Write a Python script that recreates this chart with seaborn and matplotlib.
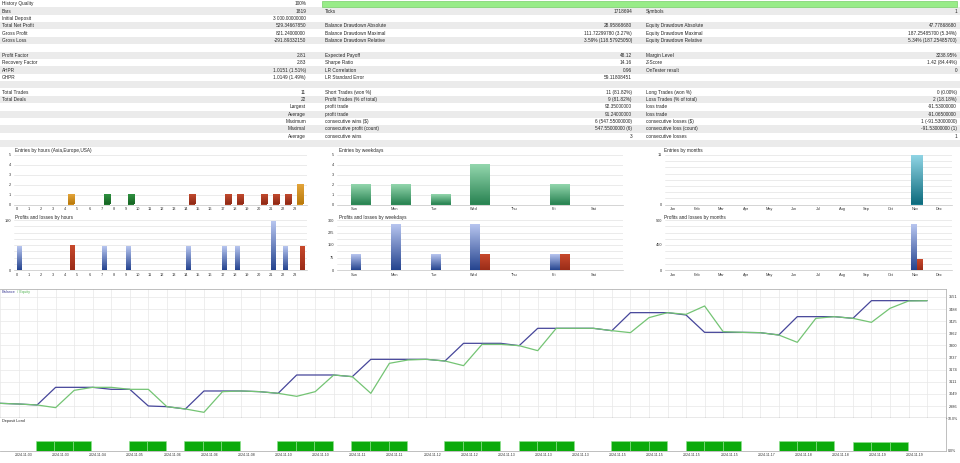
import numpy as np
import pandas as pd
import matplotlib
matplotlib.use("Agg")
import matplotlib.pyplot as plt
import seaborn as sns
from matplotlib.colors import LinearSegmentedColormap, to_hex

# --- report table -------------------------------------------------------
left_labels = ["History Quality", "Bars", "Initial Deposit", "Total Net Profit", "Gross Profit",
               "Gross Loss", "", "Profit Factor", "Recovery Factor", "AHPR", "GHPR", "",
               "Total Trades", "Total Deals", "", "", "", "", "", ""]
left_values = ["100%", "1819", "3 000.00000000", "529.34667850", "821.24000000", "-291.89332150", "",
               "2.81", "2.83", "1.0151 (1.51%)", "1.0149 (1.49%)", "", "11", "22",
               "Largest", "Average", "Maximum", "Maximal", "Average", ""]
mid_labels = ["", "Ticks", "", "Balance Drawdown Absolute", "Balance Drawdown Maximal",
              "Balance Drawdown Relative", "", "Expected Payoff", "Sharpe Ratio", "LR Correlation",
              "LR Standard Error", "", "Short Trades (won %)", "Profit Trades (% of total)",
              "profit trade", "profit trade", "consecutive wins ($)", "consecutive profit (count)",
              "consecutive wins", ""]
mid_values = ["", "1718694", "", "28.95868680", "111.72299780 (3.27%)", "3.59% (118.57925050)", "",
              "48.12", "14.16", "0.96", "59.11808451", "", "11 (81.82%)", "9 (81.82%)",
              "92.35000000", "91.24000000", "6 (547.55000000)", "547.55000000 (6)", "3", ""]
right_labels = ["", "Symbols", "", "Equity Drawdown Absolute", "Equity Drawdown Maximal",
                "Equity Drawdown Relative", "", "Margin Level", "Z-Score", "OnTester result", "", "",
                "Long Trades (won %)", "Loss Trades (% of total)", "loss trade", "loss trade",
                "consecutive losses ($)", "consecutive loss (count)", "consecutive losses", ""]
right_values = ["", "1", "", "47.77868680", "187.25485700 (5.34%)", "5.34% (187.25485700)", "",
                "3238.95%", "1.42 (84.44%)", "0", "", "", "0 (0.00%)", "2 (18.18%)",
                "-91.53000000", "-91.06500000", "1 (-91.53000000)", "-91.53000000 (1)", "1", ""]

# --- small distribution charts -------------------------------------------
hours = list(range(24))
hour_entries = [0, 0, 0, 0, 1, 0, 0, 1, 0, 1, 0, 0, 0, 0, 1, 0, 0, 1, 1, 0, 1, 1, 1, 2]
hour_session = ["Asia"] * 7 + ["Europe"] * 7 + ["USA"] * 9 + ["Asia"]
hour_profit = [91.2, 0, 0, 0, 0, 0, 0, 91.2, 0, 91.2, 0, 0, 0, 0, 91.2, 0, 0, 91.2, 87.5, 0, 0, 182.6, 91.2, 0]
hour_loss = [0, 0, 0, 0, 91.5, 0, 0, 0, 0, 0, 0, 0, 0, 0, 0, 0, 0, 0, 0, 0, 0, 0, 0, 91.1]

days = ["Sun", "Mon", "Tue", "Wed", "Thu", "Fri", "Sat"]
day_entries = [2, 2, 1, 4, 0, 2, 0]
day_profit = [91.2, 274.2, 91.2, 274.2, 0, 92.3, 0]
day_loss = [0, 0, 0, 91.5, 0, 91.1, 0]

months = ["Jan", "Feb", "Mar", "Apr", "May", "Jun", "Jul", "Aug", "Sep", "Oct", "Nov", "Dec"]
month_entries = [0, 0, 0, 0, 0, 0, 0, 0, 0, 0, 11, 0]
month_profit = [0, 0, 0, 0, 0, 0, 0, 0, 0, 0, 821.24, 0]
month_loss = [0, 0, 0, 0, 0, 0, 0, 0, 0, 0, 182.6, 0]

# --- balance / equity ----------------------------------------------------
balance = [3000.0, 2996.5, 2991.4, 3082.8, 3082.8, 3082.8, 3072.5, 3072.5, 2986.2, 2982.7,
           2970.7, 3063.9, 3063.9, 3063.9, 3060.4, 3051.8, 3146.7, 3146.7, 3146.7, 3138.1,
           3227.8, 3227.8, 3227.8, 3227.8, 3219.2, 3310.7, 3310.7, 3310.7, 3298.6, 3388.4,
           3388.4, 3388.4, 3388.4, 3376.3, 3469.5, 3469.5, 3469.5, 3457.4, 3367.6, 3367.6,
           3367.6, 3365.9, 3353.8, 3448.8, 3448.8, 3448.8, 3440.1, 3531.6, 3531.6, 3531.6, 3531.6]
equity = [3000.0, 2996.5, 2991.4, 2977.6, 3067.3, 3082.8, 3082.8, 3072.5, 3072.5, 2982.7,
          2970.7, 2953.4, 3060.4, 3063.9, 3060.4, 3051.8, 3036.2, 3060.4, 3146.7, 3138.1,
          3051.8, 3207.1, 3224.4, 3227.8, 3219.2, 3195.0, 3305.5, 3305.5, 3298.6, 3272.7,
          3388.4, 3388.4, 3388.4, 3376.3, 3365.9, 3443.6, 3469.5, 3460.8, 3504.0, 3371.1,
          3367.6, 3365.9, 3353.8, 3315.9, 3440.1, 3448.8, 3440.1, 3419.4, 3491.9, 3529.9, 3531.6]
balance_ticks = [2986, 3049, 3111, 3174, 3237, 3300, 3362, 3425, 3488, 3551]

deposit_load = [0, 0, 3.1, 3.1, 3.1, 0, 0, 3.1, 3.1, 0, 3.1, 3.1, 3.1, 0, 0, 3.0, 3.0, 3.0, 0, 3.0,
                3.0, 2.9, 0, 0, 3.0, 3.1, 3.0, 0, 3.0, 3.0, 3.0, 0, 0, 2.9, 2.9, 2.9, 0, 3.0, 3.0, 3.0,
                0, 0, 2.9, 3.0, 2.9, 0, 2.8, 2.8, 2.8, 0]
dates = ["2024.11.03", "2024.11.03", "2024.11.04", "2024.11.05", "2024.11.06", "2024.11.06",
         "2024.11.08", "2024.11.10", "2024.11.10", "2024.11.11", "2024.11.11", "2024.11.12",
         "2024.11.12", "2024.11.13", "2024.11.13", "2024.11.13", "2024.11.15", "2024.11.15",
         "2024.11.15", "2024.11.15", "2024.11.17", "2024.11.18", "2024.11.18", "2024.11.19",
         "2024.11.19"]

sns.set_theme(style="white")
plt.rcParams["font.family"] = ["Liberation Sans", "DejaVu Sans"]

W, H = 960, 463
TXT = "#262626"
FS = 3.4
TFS = 2.8

fig = plt.figure(figsize=(9.6, 4.63), dpi=100)
fig.patch.set_facecolor("white")


def px_axes(x0, y0, x1, y1):
    return fig.add_axes([x0 / W, 1 - y1 / H, (x1 - x0) / W, (y1 - y0) / H])


bg = fig.add_axes([0, 0, 1, 1])
bg.set_xlim(0, W)
bg.set_ylim(H, 0)
bg.axis("off")

# table rows
RH = 7.37
for i in range(len(left_labels)):
    if i % 2 == 1:
        bg.add_patch(plt.Rectangle((0, i * RH), W, RH, color="#ebebeb", lw=0))
    yc = i * RH + RH / 2
    bg.text(2, yc, left_labels[i], fontsize=FS, va="center", color=TXT)
    bg.text(306, yc, left_values[i], fontsize=FS, va="center", ha="right", color=TXT)
    bg.text(325, yc, mid_labels[i], fontsize=FS, va="center", color=TXT)
    bg.text(632, yc, mid_values[i], fontsize=FS, va="center", ha="right", color=TXT)
    bg.text(646, yc, right_labels[i], fontsize=FS, va="center", color=TXT)
    bg.text(957, yc, right_values[i], fontsize=FS, va="center", ha="right", color=TXT)
# history quality bar
bg.add_patch(plt.Rectangle((322, 0.6), 635, 6.2, facecolor="#98ec88", edgecolor="#78cf6a", lw=0.5))

titles = [(15, 150.5, "Entries by hours (Asia,Europe,USA)"), (15, 217, "Profits and losses by hours"),
          (339, 150.5, "Entries by weekdays"), (339, 217, "Profits and losses by weekdays"),
          (664, 150.5, "Entries by months"), (664, 217, "Profits and losses by months")]
for x, y, t in titles:
    bg.text(x, y, t, fontsize=FS, va="center", color=TXT)

BLUE, RED = "#2f4f9f", "#a8321e"
grads = {
    "#2f4f9f": ("#b7c5ef", "#25448f"),
    "#a8321e": ("#c8492c", "#9a2c18"),
    "#2e8b57": ("#93d6ad", "#2a8453"),
    "#1a7f91": ("#92d6e6", "#0e6c7e"),
    "#d08a14": ("#e3a43a", "#b97a0c"),
    "#1f7a2e": ("#2f9140", "#176524"),
    "#a83a22": ("#c24a2e", "#8f2a16"),
}


def shade(ax):
    for p in list(ax.patches):
        h = p.get_height()
        if h <= 0:
            p.set_visible(False)
            continue
        key = to_hex(p.get_facecolor())
        if key not in grads:
            continue
        top, bot = grads[key]
        cmap = LinearSegmentedColormap.from_list("g", [bot, top])
        x, y, w = p.get_x(), p.get_y(), p.get_width()
        ax.imshow(np.linspace(0, 1, 64).reshape(-1, 1), cmap=cmap, origin="lower",
                  extent=[x, x + w, y, y + h], aspect="auto", zorder=2, interpolation="bilinear")


def style_small(ax, xlim, ylim, yvals, ylabels, xpos, xlabels):
    ax.set(xlabel="", ylabel="")
    ax.set_xlim(xlim)
    ax.set_ylim(ylim)
    ax.set_yticks(yvals)
    ax.set_yticklabels(ylabels)
    ax.set_xticks(xpos)
    ax.set_xticklabels(xlabels)
    ax.tick_params(length=0, labelsize=TFS, pad=2, colors="#333333")
    ax.yaxis.grid(True, color="#e3e3e3", lw=0.5)
    ax.xaxis.grid(False)
    ax.set_axisbelow(True)
    for s in ["top", "right", "left"]:
        ax.spines[s].set_visible(False)
    ax.spines["bottom"].set_color("#c4c4c4")
    ax.spines["bottom"].set_linewidth(0.5)
    ax.set_facecolor("white")


def grid_labels(top, labelled):
    vals = [top * k / 8 for k in range(9)]
    labs = [labelled.get(k, "") for k in range(9)]
    return vals, labs


# hours
ax = px_axes(14, 155, 307, 204.5)
sns.barplot(x=hours, y=hour_entries, hue=hour_session, hue_order=["Asia", "Europe", "USA"],
            palette=["#d08a14", "#1f7a2e", "#a83a22"], dodge=False, width=0.5, saturation=1,
            legend=False, linewidth=0, ax=ax)
shade(ax)
style_small(ax, (-0.45 - 0.25, 22.55 + 1.0), (0, 5), range(6), [str(v) for v in range(6)],
            [h - 0.45 for h in hours], [str(h) for h in hours])

df_h = pd.DataFrame({"hour": hours * 2, "value": hour_profit + hour_loss,
                     "kind": ["Profit"] * 24 + ["Loss"] * 24})
ax = px_axes(14, 220, 307, 270)
sns.barplot(data=df_h, x="hour", y="value", hue="kind", hue_order=["Profit", "Loss"],
            palette=[BLUE, RED], width=0.8, saturation=1, legend=False, linewidth=0, ax=ax)
shade(ax)
yv, yl = grid_labels(190, {0: "0", 8: "190"})
style_small(ax, (-0.4 - 0.25, 22.6 + 1.0), (0, 190), yv, yl,
            [h - 0.4 for h in hours], [str(h) for h in hours])

# weekdays
ax = px_axes(337, 155, 623, 204.5)
sns.barplot(x=days, y=day_entries, color="#2e8b57", width=0.5, saturation=1, linewidth=0, ax=ax)
shade(ax)
style_small(ax, (-0.6, 6.58), (0, 5), range(6), [str(v) for v in range(6)],
            [i - 0.16 for i in range(7)], days)

df_d = pd.DataFrame({"day": days * 2, "value": day_profit + day_loss,
                     "kind": ["Profit"] * 7 + ["Loss"] * 7})
ax = px_axes(337, 220, 623, 270)
sns.barplot(data=df_d, x="day", y="value", hue="kind", hue_order=["Profit", "Loss"],
            palette=[BLUE, RED], width=0.5, saturation=1, legend=False, linewidth=0, ax=ax)
shade(ax)
yv, yl = grid_labels(300, {0: "0", 2: "75", 4: "150", 6: "225", 8: "300"})
style_small(ax, (-0.6, 6.58), (0, 300), yv, yl, [i - 0.16 for i in range(7)], days)

# months
ax = px_axes(665, 155, 952, 204.5)
sns.barplot(x=months, y=month_entries, color="#1a7f91", width=0.48, saturation=1, linewidth=0, ax=ax)
shade(ax)
yv, yl = grid_labels(11, {0: "0", 8: "11"})
style_small(ax, (-0.43, 11.44), (0, 11), yv, yl, [i - 0.1 for i in range(12)], months)

df_m = pd.DataFrame({"month": months * 2, "value": month_profit + month_loss,
                     "kind": ["Profit"] * 12 + ["Loss"] * 12})
ax = px_axes(665, 220, 952, 270)
sns.barplot(data=df_m, x="month", y="value", hue="kind", hue_order=["Profit", "Loss"],
            palette=[BLUE, RED], width=0.48, saturation=1, legend=False, linewidth=0, ax=ax)
shade(ax)
yv, yl = grid_labels(900, {0: "0", 4: "450", 8: "900"})
style_small(ax, (-0.43, 11.44), (0, 900), yv, yl, [i - 0.1 for i in range(12)], months)

# balance / equity chart
nodes = list(range(len(balance)))
bal = px_axes(0, 289, 946, 418)
sns.lineplot(x=nodes, y=balance, color="#46469a", lw=0.9, ax=bal)
sns.lineplot(x=nodes, y=equity, color="#74c474", lw=0.9, ax=bal)
bal.set(xlabel="", ylabel="")
bal.set_xlim(0.075, 51.02)
bal.set_ylim(2924, 3592)
bal.yaxis.tick_right()
bal.set_yticks(balance_ticks)
bal.set_yticklabels([str(t) for t in balance_ticks])
bal.set_xticks(nodes)
bal.set_xticklabels([])
bal.tick_params(length=0, labelsize=TFS, pad=2, colors="#333333")
bal.grid(True, color="#e8e8e8", lw=0.5)
bal.set_axisbelow(True)
bal.spines["left"].set_visible(False)
for s in ["top", "right"]:
    bal.spines[s].set_color("#b4b4b4")
    bal.spines[s].set_linewidth(0.6)
bal.spines["bottom"].set_color("#555555")
bal.spines["bottom"].set_linewidth(0.9)
t1 = bal.text(0.002, 0.975, "Balance", transform=bal.transAxes, fontsize=TFS,
              color="#46469a", va="center")
bal.annotate(" / Equity", xy=(1, 0.5), xycoords=t1, fontsize=TFS, color="#5cb85c", va="center")

# deposit load
dep = px_axes(0, 418, 946, 451)
segs = list(range(len(deposit_load)))
sns.barplot(x=segs, y=deposit_load, color="#0aaa0a", width=1, saturation=1,
            edgecolor="#8ee28e", linewidth=0.4, ax=dep)
for p in dep.patches:
    if p.get_height() <= 0:
        p.set_visible(False)
dep.set(xlabel="", ylabel="")
dep.set_xlim(0.075 - 0.5, 51.02 - 0.5)
dep.set_ylim(0, 10)
dep.yaxis.tick_right()
dep.set_yticks([0, 10])
dep.set_yticklabels(["0.0%", "10.0%"])
dep.set_xticks([1.35 + 2 * j - 0.5 for j in range(len(dates))])
dep.set_xticklabels(dates)
dep.tick_params(length=0, labelsize=2.6, pad=1.5, colors="#333333")
for s in ["left", "top"]:
    dep.spines[s].set_visible(False)
for s in ["right", "bottom"]:
    dep.spines[s].set_color("#b4b4b4")
    dep.spines[s].set_linewidth(0.6)
dep.text(0.002, 0.9, "Deposit Load", transform=dep.transAxes, fontsize=TFS, color=TXT, va="center")

fig.savefig("out.png", dpi=100)
